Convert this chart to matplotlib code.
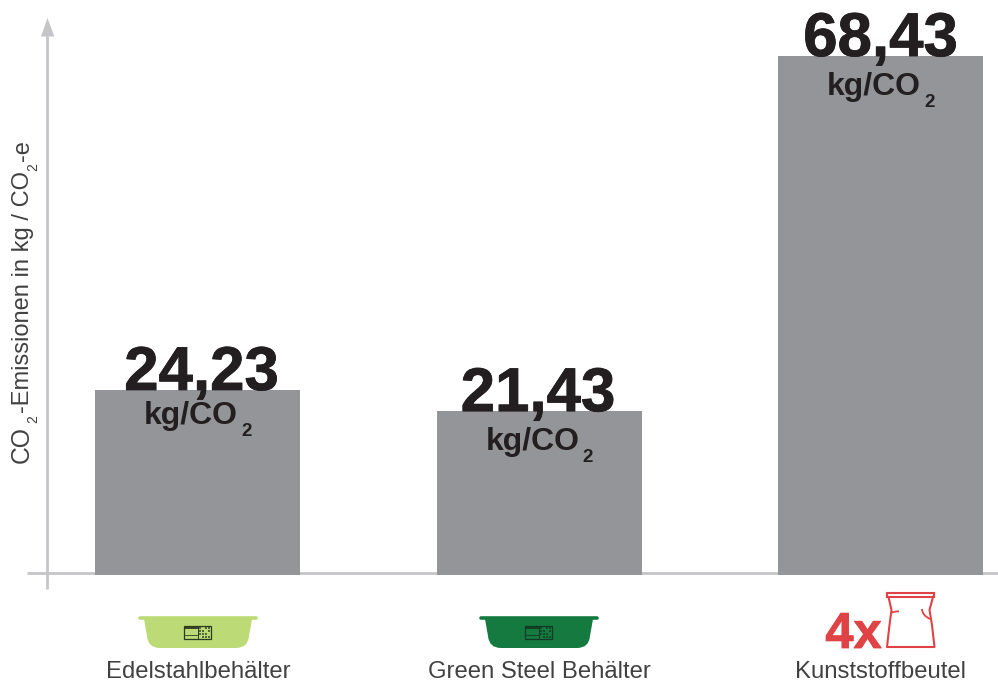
import matplotlib
matplotlib.use("Agg")
import matplotlib.pyplot as plt
import matplotlib.patheffects as pe
from matplotlib.patches import PathPatch, Polygon, Rectangle
from matplotlib.path import Path

plt.rcParams["font.family"] = ["Liberation Sans", "DejaVu Sans"]

# ── Data ───────────────────────────────────────────
categories = ["Edelstahlbehälter", "Green Steel Behälter", "Kunststoffbeutel"]
values = [24.23, 21.43, 68.43]

# ── Styles ─────────────────────────────────────────
BAR_GREY = "#939598"
AXIS_GREY = "#c5c5c9"
DARK = "#231f20"
LABEL = "#414141"
RED = "#e04345"
W, H = 998, 683
PX_PER_UNIT = 7.555
BAR_STEP = 341.5
BAR_WIDTH = 205 / BAR_STEP
BAR_FOOT = 2 / PX_PER_UNIT

fig = plt.figure(figsize=(W / 100, H / 100), dpi=100, facecolor="white")

# Bars live in value space; the axes spans the whole figure
ax = fig.add_axes([0, 0, 1, 1], facecolor="none", zorder=2)
ax.set_xlim(-197.5 / BAR_STEP, (W - 197.5) / BAR_STEP)
ax.set_ylim(-(H - 573) / PX_PER_UNIT, 573 / PX_PER_UNIT)
ax.axis("off")
# bars start a touch under the baseline, which they cover
ax.bar(range(len(values)), [v + BAR_FOOT for v in values], width=BAR_WIDTH,
       bottom=-BAR_FOOT, color=BAR_GREY, linewidth=0, zorder=3)

# Layers in pixel coordinates: axis lines below the bars, pictograms on top
under = fig.add_axes([0, 0, 1, 1], facecolor="none", zorder=1)
ov = fig.add_axes([0, 0, 1, 1], facecolor="none", zorder=3)
for layer in (under, ov):
    layer.set_xlim(0, W)
    layer.set_ylim(H, 0)
    layer.axis("off")

under.plot([47.5, 47.5], [34, 589], color=AXIS_GREY, lw=2.0, solid_capstyle="butt")
under.plot([27, W], [572.7, 572.7], color=AXIS_GREY, lw=2.0, solid_capstyle="butt")
under.add_patch(Polygon([(47.5, 18), (54.3, 36.5), (41, 36.5)], closed=True,
                        facecolor=AXIS_GREY, edgecolor="none"))

# Rotated axis title, set piece by piece so the subscripts can sit low
for txt, y, x, size in [("CO", 463, 29, 17.8),
                        ("2", 423, 37, 10),
                        ("-Emissionen in kg / CO", 413, 29, 17),
                        ("2", 171, 37, 10),
                        ("-e", 161, 29, 17)]:
    ov.text(x, y, txt, rotation=90, rotation_mode="anchor", ha="left", va="baseline",
            fontsize=size, color=LABEL)

# ── Value labels ───────────────────────────────────
heavy = [pe.withStroke(linewidth=0.6, foreground=DARK)]
value_offsets = [4, -1, 0]
unit_drops = [-34, -39, -39]
unit_edge = 40.5
for i, v in enumerate(values):
    ax.annotate(f"{v:.2f}".replace(".", ","), (i, v), xytext=(value_offsets[i], 0),
                textcoords="offset pixels", ha="center", va="baseline",
                fontsize=44.5, fontweight="bold", color=DARK, zorder=5,
                path_effects=heavy)
    ax.annotate("kg/CO", (i, v), xytext=(unit_edge, unit_drops[i]),
                textcoords="offset pixels", ha="right", va="baseline",
                fontsize=23, fontweight="bold", color=DARK, zorder=5)
    ax.annotate("2", (i, v), xytext=(unit_edge + 3, unit_drops[i] - 12),
                textcoords="offset pixels", ha="left", va="baseline",
                fontsize=13.5, fontweight="bold", color=DARK, zorder=5)

# ── Category labels ────────────────────────────────
for x, name in zip([198, 539, 880.5], categories):
    ov.text(x, 678, name, ha="center", va="baseline", fontsize=17.2, color=LABEL)


def draw_tub(x0, color, ink):
    """Tub pictogram with a small label on its front, x0 = left end of the rim."""
    ov.plot([x0 + 2, x0 + 118.5], [618, 618], color=color, lw=2.6, solid_capstyle="round")
    verts = [(x0 + 6, 619), (x0 + 114, 619), (x0 + 111, 636),
             (x0 + 110, 648), (x0 + 98, 648), (x0 + 22, 648),
             (x0 + 10, 648), (x0 + 9, 636), (x0 + 6, 619)]
    codes = [Path.MOVETO, Path.LINETO, Path.LINETO, Path.CURVE3, Path.CURVE3,
             Path.LINETO, Path.CURVE3, Path.CURVE3, Path.CLOSEPOLY]
    ov.add_patch(PathPatch(Path(verts, codes), facecolor=color, edgecolor="none"))

    # label plate: text block on the left, code block on the right
    lx, ly = x0 + 46.5, 625.7
    ov.add_patch(Rectangle((lx, ly), 27, 13, facecolor=color, edgecolor=ink, lw=0.9))
    ov.plot([lx + 1, lx + 13], [ly + 2.5, ly + 2.5], color=ink, lw=1.3)
    ov.plot([lx + 1, lx + 13], [ly + 9.5, ly + 9.5], color=ink, lw=0.6)
    ov.plot([lx + 13.5, lx + 13.5], [ly, ly + 13], color=ink, lw=0.7)
    for row in range(4):
        for col in range(4):
            if (row * 3 + col * 5) % 4 != 1:
                ov.add_patch(Rectangle((lx + 14.5 + col * 3, ly + 1 + row * 3), 2, 2,
                                       facecolor=ink, edgecolor="none", alpha=0.7))


draw_tub(138, "#bcdb76", "#2b3a20")
draw_tub(479, "#157a40", "#123a22")

# ── Bag pictogram ──────────────────────────────────
ov.text(853.5, 648, "4x", ha="center", va="baseline", fontsize=36.5,
        fontweight="bold", color=RED,
        path_effects=[pe.withStroke(linewidth=0.6, foreground=RED)])
ov.add_patch(Rectangle((887, 592.5), 47.5, 4.8, facecolor="none", edgecolor=RED, lw=1.5))
bag_verts = [(888.5, 597), (891.5, 610), (889.5, 625), (887, 647), (934.5, 647),
             (932, 625), (929.5, 610), (933, 597)]
ov.plot([p[0] for p in bag_verts], [p[1] for p in bag_verts], color=RED, lw=1.5,
        solid_joinstyle="round")
ov.add_patch(PathPatch(Path([(891, 613), (894, 611), (899, 611.5)],
                            [Path.MOVETO, Path.CURVE3, Path.CURVE3]),
                       facecolor="none", edgecolor=RED, lw=1.3))
ov.add_patch(PathPatch(Path([(922, 609), (922, 615), (930, 619)],
                            [Path.MOVETO, Path.CURVE3, Path.CURVE3]),
                       facecolor="none", edgecolor=RED, lw=1.3))

fig.savefig("out.png", dpi=100, facecolor="white")
plt.close(fig)
